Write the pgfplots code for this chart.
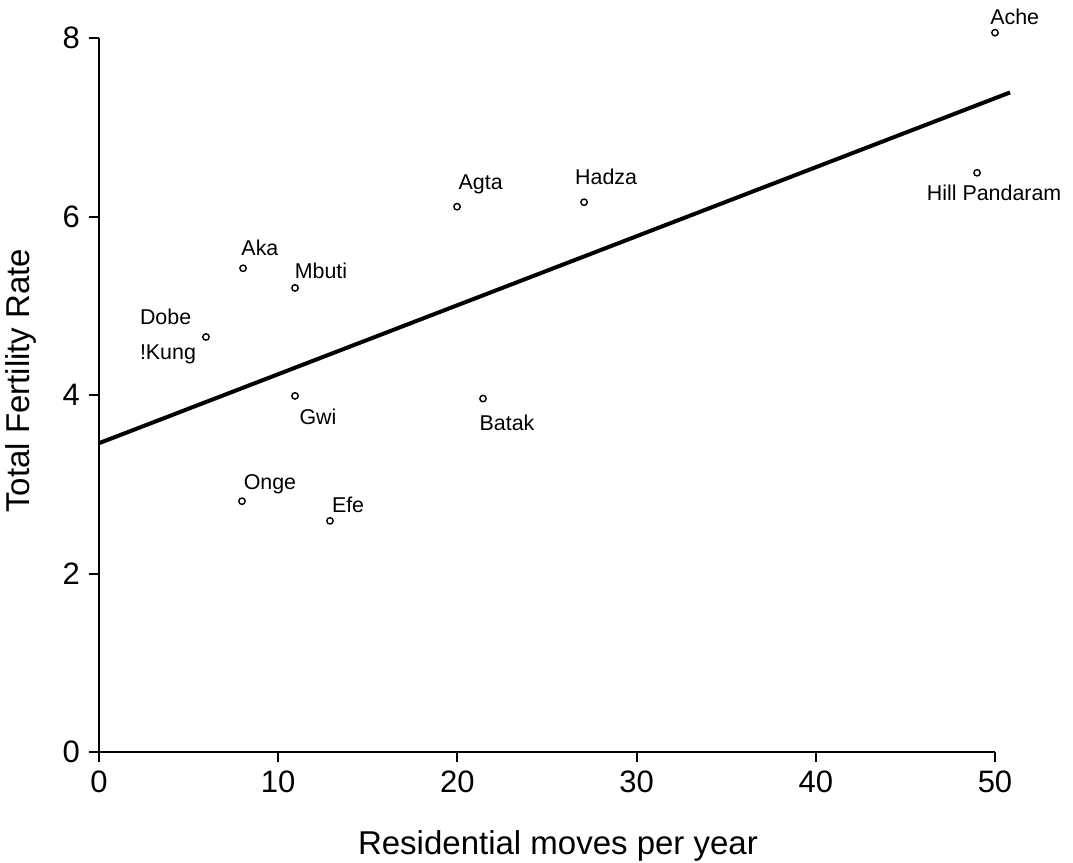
\documentclass[border=0pt]{standalone}
\usepackage{pgfplots}
\pgfplotsset{compat=1.18}
\usepackage{fontspec}
\setmainfont{Liberation Sans}
\begin{document}
\begin{tikzpicture}[x=1pt,y=1pt]
\path[use as bounding box] (-49.5,-55.5) rectangle (487,376);
\begin{axis}[
  at={(0,0)}, anchor=origin,
  scale only axis, width=448pt, height=357pt,
  xmin=0, xmax=50, ymin=0, ymax=8,
  axis x line=bottom, axis y line=left,
  axis line style={line width=1pt,-},
  xtick={0,10,20,30,40,50}, ytick={0,2,4,6,8},
  tick style={line width=1pt,black},
  tick align=outside, major tick length=5pt,
  every tick label/.append style={font=\fontsize{15.5}{18}\selectfont},
  /pgf/number format/assume math mode=true,
  xticklabel style={yshift=-1pt},
  yticklabel style={xshift=-1pt},
  xlabel={Residential moves per year},
  ylabel={Total Fertility Rate},
  label style={font=\fontsize{16.5}{20}\selectfont},
  xlabel style={at={(axis description cs:0.5,0)}, anchor=center, yshift=-47pt, xshift=5.5pt},
  ylabel style={at={(axis description cs:0,0.52)}, anchor=center, yshift=39pt},
  clip=false,
]
\addplot[only marks, mark=o, mark size=1.6pt, mark options={line width=0.7pt}, black] coordinates {
 (50,8.06) (49.0,6.49) (27.07,6.16) (19.98,6.11) (8.04,5.42) (10.94,5.20)
 (5.97,4.65) (10.94,3.99) (21.43,3.96) (7.98,2.81) (12.89,2.59)
};
\addplot[black, line width=2pt] coordinates {(0,3.46) (50.84,7.39)};
\begin{scope}[every node/.style={font=\fontsize{10.7}{12.5}\selectfont, inner sep=0pt}]
\node at (axis cs:51.1,8.24) {Ache};
\node at (axis cs:49.95,6.26) {Hill Pandaram};
\node at (axis cs:28.3,6.44) {Hadza};
\node at (axis cs:21.3,6.36) {Agta};
\node at (axis cs:8.98,5.65) {Aka};
\node at (axis cs:12.39,5.39) {Mbuti};
\node[align=left] at (axis cs:3.85,4.66) {Dobe\\[5pt]!Kung};
\node at (axis cs:12.22,3.76) {Gwi};
\node at (axis cs:22.77,3.69) {Batak};
\node at (axis cs:9.54,3.00) {Onge};
\node at (axis cs:13.9,2.77) {Efe};
\end{scope}
\end{axis}
\end{tikzpicture}
\end{document}
